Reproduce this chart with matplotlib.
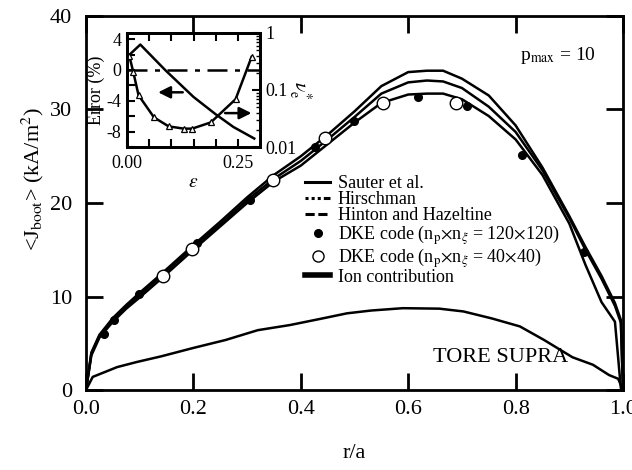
import matplotlib
matplotlib.use("Agg")
import matplotlib.pyplot as plt
from matplotlib.lines import Line2D
from matplotlib.ticker import FixedLocator, FixedFormatter, MultipleLocator, NullFormatter, LogLocator

plt.rcParams['font.family'] = 'serif'
plt.rcParams['font.serif'] = ['Liberation Serif']
plt.rcParams['mathtext.fontset'] = 'stix'

# main panel: bootstrap current profiles
r_theory = [0, 0.01, 0.025, 0.05, 0.075, 0.1, 0.14, 0.2, 0.25, 0.3, 0.35, 0.4, 0.45, 0.5,
            0.55, 0.6, 0.635, 0.665, 0.7, 0.75, 0.8, 0.85, 0.9, 0.93, 0.96, 0.985, 0.996, 1.0]
j_hinton = [0, 4.0, 5.9, 7.7, 9.1, 10.4, 12.4, 15.5, 18.0, 20.6, 23.0, 25.0, 27.3, 29.8,
            32.5, 34.0, 34.15, 34.15, 33.3, 31.5, 28.3, 23.8, 18.6, 15.3, 12.2, 9.3, 7.5, 0]
j_hirschman = [0, 3.9, 5.8, 7.5, 8.9, 10.2, 12.2, 15.3, 17.7, 20.3, 22.6, 24.5, 26.8, 29.2,
               31.7, 32.9, 33.1, 33.0, 32.3, 30.3, 27.6, 23.5, 18.4, 15.0, 11.9, 9.0, 7.2, 0]
j_sauter = [0, 3.7, 5.6, 7.3, 8.7, 9.9, 11.9, 15.0, 17.5, 20.0, 22.3, 24.0, 26.3, 28.6,
            30.7, 31.6, 31.7, 31.7, 31.1, 29.3, 26.8, 23.0, 17.8, 13.4, 9.4, 7.3, 0.2, 0]

r_ion = [0, 0.0125, 0.058, 0.095, 0.14, 0.2, 0.26, 0.32, 0.38, 0.44, 0.486, 0.531, 0.59,
         0.658, 0.703, 0.756, 0.808, 0.853, 0.906, 0.944, 0.974, 0.991, 1.0]
j_ion = [0, 1.4, 2.45, 3.0, 3.6, 4.5, 5.35, 6.4, 6.95, 7.65, 8.2, 8.5, 8.75,
         8.7, 8.4, 7.65, 6.8, 5.35, 3.5, 2.7, 1.6, 1.2, 0]

r_dke120 = [0.034, 0.052, 0.099, 0.206, 0.305, 0.426, 0.499, 0.619, 0.710, 0.812, 0.928]
j_dke120 = [6.0, 7.5, 10.3, 15.75, 20.3, 26.0, 28.8, 31.3, 30.4, 25.1, 14.8]
r_dke40 = [0.143, 0.197, 0.349, 0.445, 0.554, 0.689]
j_dke40 = [12.2, 15.05, 22.5, 26.9, 30.7, 30.7]

# inset: error and collisionality vs epsilon
eps_err = [0.006, 0.03, 0.086, 0.15, 0.2, 0.24, 0.287]
err_pct = [2.0, 3.3, 0.0, -3.5, -5.75, -7.4, -8.9]
eps_nu = [0.005, 0.014, 0.026, 0.061, 0.094, 0.128, 0.147, 0.189, 0.245, 0.281]
nu_star = [0.40, 0.21, 0.081, 0.033, 0.023, 0.021, 0.021, 0.027, 0.069, 0.38]

W, H = 632, 470
fig = plt.figure(figsize=(W / 100, H / 100), dpi=100)
ax = fig.add_axes([86 / W, 1 - 390 / H, 537 / W, 374 / H])

lw = 1.8
ax.plot(r_theory, j_sauter, color='black', lw=lw)
ax.plot(r_theory, j_hirschman, color='black', lw=lw)
ax.plot(r_theory, j_hinton, color='black', lw=lw)
ax.plot(r_ion, j_ion, color='black', lw=lw)
ax.plot(r_dke120, j_dke120, 'o', color='black', ms=5.5, ls='none')
ax.plot(r_dke40, j_dke40, 'o', mfc='white', mec='black', mew=1.0, ms=9, ls='none')

ax.set_xlim(0, 1)
ax.set_ylim(0, 40)
ax.xaxis.set_major_locator(FixedLocator([0, 0.2, 0.4, 0.6, 0.8, 1.0]))
ax.xaxis.set_major_formatter(FixedFormatter(['0.0', '0.2', '0.4', '0.6', '0.8', '1.0']))
ax.yaxis.set_major_locator(MultipleLocator(10))
ax.tick_params(direction='in', length=12, width=2, top=True, right=True, labelsize=16)
ax.tick_params(axis='x', pad=7)
ax.tick_params(axis='y', pad=10)
for s in ax.spines.values():
    s.set_linewidth(2)

ax.set_xlabel('r/a', fontsize=16)
ax.xaxis.set_label_coords(0.5, -0.145)
ax.set_ylabel(r'<J$_{\mathrm{boot}}$> (kA/m$^2$)', fontsize=16)
ax.yaxis.set_label_coords(-0.075, 0.565)

fig.text(433 / W, 1 - 358 / H, 'TORE SUPRA', fontsize=16, va='center')
fig.text(520 / W, 1 - 55 / H, r'p$_{\mathrm{max}}$ = 10', fontsize=14, va='center')

handles = [
    Line2D([], [], color='black', lw=2.2, ls='-'),
    Line2D([], [], color='black', lw=2.2, ls=(0, (1, 1, 1, 1, 1, 1, 3, 0.8))),
    Line2D([], [], color='black', lw=2.2, ls=(0, (3, 1.2))),
    Line2D([], [], color='black', marker='o', ms=5.5, ls='none'),
    Line2D([], [], marker='o', mfc='white', mec='black', mew=1.0, ms=8, ls='none'),
    Line2D([], [], color='black', lw=4, ls='-'),
]
labels = ['Sauter et al.', 'Hirschman', 'Hinton and Hazeltine',
          r'DKE code (n$_{\mathrm{p}}$$\times$n$_{\xi}$ = 120$\times$120)',
          r'DKE code (n$_{\mathrm{p}}$$\times$n$_{\xi}$ = 40$\times$40)',
          'Ion contribution']
fig.legend(handles, labels, loc='upper left', bbox_to_anchor=(305 / W, 1 - 175 / H),
           frameon=False, fontsize=13, handlelength=1.4, handletextpad=0.4,
           labelspacing=-0.05, borderpad=0, borderaxespad=0)

# inset
axin = fig.add_axes([127 / W, 1 - 147 / H, 133 / W, 114 / H])
axin.set_facecolor('white')
axin.plot(eps_err, err_pct, color='black', lw=1.8)
axin.axhline(0, color='black', lw=1.8, ls=(0, (8, 3, 2, 3)))
axin.set_xlim(0, 0.3)
axin.set_ylim(-10, 4.8)
axin.xaxis.set_major_locator(FixedLocator([0, 0.05, 0.1, 0.15, 0.2, 0.25]))
axin.xaxis.set_major_formatter(FixedFormatter(['0.00', '', '', '', '', '0.25']))
axin.yaxis.set_major_locator(FixedLocator([-10, -8, -6, -4, -2, 0, 2, 4]))
axin.yaxis.set_major_formatter(FixedFormatter(['', '-8', '', '-4', '', '0', '', '4']))
axin.tick_params(direction='in', length=6, width=1.5, top=True, labelsize=13)
axin.tick_params(axis='x', pad=6)
axin.tick_params(axis='y', pad=4)
axin.set_xlabel(r'$\varepsilon$', fontsize=14, labelpad=1)
axin.set_ylabel('Error (%)', fontsize=13, labelpad=1)
axin.annotate('', xy=(0.064, -2.9), xytext=(0.132, -2.9),
              arrowprops=dict(arrowstyle='-|>', color='black', lw=1.8, mutation_scale=18))
axin.annotate('', xy=(0.287, -5.6), xytext=(0.215, -5.6),
              arrowprops=dict(arrowstyle='-|>', color='black', lw=1.8, mutation_scale=18))

ax2 = axin.twinx()
ax2.plot(eps_nu, nu_star, color='black', lw=1.8, marker='^', mfc='white', mec='black',
         ms=5, mew=0.9)
ax2.set_yscale('log')
ax2.set_ylim(0.01, 1)
ax2.yaxis.set_major_locator(FixedLocator([0.01, 0.1, 1]))
ax2.yaxis.set_major_formatter(FixedFormatter(['0.01', '0.1', '1']))
ax2.yaxis.set_minor_locator(LogLocator(base=10, subs=range(2, 10)))
ax2.yaxis.set_minor_formatter(NullFormatter())
ax2.tick_params(which='major', direction='in', length=6, width=1.5, labelsize=13, pad=4)
ax2.tick_params(which='minor', direction='in', length=3, width=1)
ax2.set_ylabel(r'$\nu_{\mathrm{e}}^{*}$', fontsize=14, rotation=-90, labelpad=2, va='center')
for a in (axin, ax2):
    for s in a.spines.values():
        s.set_linewidth(2)

fig.savefig('out.png', dpi=100)
